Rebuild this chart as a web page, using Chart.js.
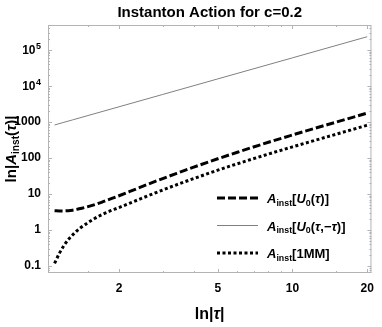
<!DOCTYPE html>
<html>
<head>
<meta charset="utf-8">
<script src="https://cdn.jsdelivr.net/npm/chart.js@4.4.1/dist/chart.umd.min.js"></script>
<style>
html, body { margin: 0; padding: 0; background: #fff; }
</style>
</head>
<body>
<canvas id="chart" width="382" height="327"></canvas>
<script>
// values (log-log plot)
const tau = [1.1, 1.15, 1.2, 1.25, 1.3, 1.35, 1.4, 1.5, 1.6, 1.7, 1.8, 2, 2.2, 2.4, 2.6, 3, 3.5, 4, 5, 6, 8, 10, 12, 15, 20];
const instU0 = [3.44, 3.39, 3.39, 3.44, 3.55, 3.73, 3.95, 4.44, 5.07, 5.86, 6.8, 8.93, 11.56, 14.7, 18.3, 26.8, 39.7, 55.5, 94.8, 144, 272, 434, 631, 986, 1754];
const instOneMM = [0.119, 0.224, 0.37, 0.543, 0.724, 0.933, 1.15, 1.6, 2.11, 2.63, 3.16, 4.2, 5.48, 7.0, 8.73, 12.85, 19.2, 26.8, 45.8, 69, 128, 203, 292, 456, 811];
const tauPair = [1.1, 1.2, 1.3, 1.5, 2, 3, 5, 10, 20];
const instU0Pair = [822, 975, 1138, 1503, 2630, 5780, 15630, 60100, 231700];

const xMajor = [2, 5, 10, 20];
const xMinor = [1.5, 3, 4, 6, 7, 8, 9, 15];
const yMajor = [0.1, 1, 10, 100, 1000, 1e4, 1e5];
const yLabels = ['0.1', '1', '10', '100', '1000', '10^4', '10^5'];

const FONT = "'Liberation Sans Narrow', 'Liberation Sans', Arial, sans-serif";

function toPoints(xs, ys) {
    return xs.map((x, i) => ({ x: x, y: ys[i] }));
}

// text with italic / subscript pieces
function richWidth(ctx, parts, size) {
    let w = 0;
    parts.forEach(([t, s]) => {
        const fs = s === 'sub' ? size * 0.68 : size;
        ctx.font = (s === 'i' ? 'italic ' : '') + 'bold ' + fs + 'px ' + FONT;
        w += ctx.measureText(t).width;
    });
    return w;
}

function drawRich(ctx, x, y, parts, size) {
    let cx = x;
    parts.forEach(([t, s]) => {
        const sub = s === 'sub';
        const fs = sub ? size * 0.68 : size;
        ctx.font = (s === 'i' ? 'italic ' : '') + 'bold ' + fs + 'px ' + FONT;
        ctx.fillText(t, cx, sub ? y + size * 0.22 : y);
        cx += ctx.measureText(t).width;
    });
}

const legendRows = [
    [['A', 'i'], ['inst', 'sub'], ['[', ''], ['U', 'i'], ['0', 'sub'], ['(', ''], ['\u03C4', 'i'], [')]', '']],
    [['A', 'i'], ['inst', 'sub'], ['[', ''], ['U', 'i'], ['0', 'sub'], ['(', ''], ['\u03C4', 'i'], [',\u2212', ''], ['\u03C4', 'i'], [')]', '']],
    [['A', 'i'], ['inst', 'sub'], ['[1MM]', '']]
];
const yTitle = [['ln|', ''], ['A', 'i'], ['inst', 'sub'], ['(', ''], ['\u03C4', 'i'], [')|', '']];
const xTitle = [['ln|', ''], ['\u03C4', 'i'], ['|', '']];

const decor = {
    id: 'decor',
    beforeDatasetsDraw(chart) {
        const { ctx, chartArea: a, scales: { x, y } } = chart;
        ctx.save();
        ctx.strokeStyle = '#b4b4b4';
        ctx.lineWidth = 1;
        ctx.strokeRect(a.left + 0.5, a.top + 0.5, a.right - a.left - 1, a.bottom - a.top - 1);

        ctx.beginPath();
        const yTick = (v, len) => {
            const py = Math.round(y.getPixelForValue(v)) + 0.5;
            if (py < a.top || py > a.bottom) return;
            ctx.moveTo(a.left, py); ctx.lineTo(a.left + len, py);
            ctx.moveTo(a.right, py); ctx.lineTo(a.right - len, py);
        };
        const xTick = (v, len) => {
            const px = Math.round(x.getPixelForValue(v)) + 0.5;
            if (px < a.left || px > a.right) return;
            ctx.moveTo(px, a.bottom); ctx.lineTo(px, a.bottom - len);
            ctx.moveTo(px, a.top); ctx.lineTo(px, a.top + len);
        };
        for (let k = -2; k <= 5; k++) {
            yTick(Math.pow(10, k), 4);
            for (let m = 2; m <= 9; m++) yTick(m * Math.pow(10, k), 2);
        }
        xMajor.forEach(v => xTick(v, 4));
        xMinor.forEach(v => xTick(v, 2));
        ctx.stroke();
        ctx.restore();
    },
    afterDraw(chart) {
        const { ctx, chartArea: a, scales: { y } } = chart;
        ctx.save();
        ctx.fillStyle = '#000';
        ctx.textBaseline = 'alphabetic';
        ctx.textAlign = 'left';

        // power-of-ten tick labels with a real superscript
        yLabels.forEach((lab, i) => {
            if (lab.indexOf('^') < 0) return;
            const [base, exp] = lab.split('^');
            const py = y.getPixelForValue(yMajor[i]);
            ctx.font = 'bold 9px ' + FONT;
            const ew = ctx.measureText(exp).width;
            ctx.fillText(exp, a.left - 7 - ew, py - 1);
            ctx.font = 'bold 12px ' + FONT;
            const bw = ctx.measureText(base).width;
            ctx.fillText(base, a.left - 7 - ew - bw - 0.5, py + 4.5);
        });

        // title
        ctx.font = 'bold 15px ' + FONT;
        const title = 'Instanton Action for c=0.2';
        const tw = ctx.measureText(title).width;
        ctx.fillText(title, (a.left + a.right) / 2 - tw / 2, 17);

        // axis titles
        const xw = richWidth(ctx, xTitle, 16);
        drawRich(ctx, (a.left + a.right) / 2 - xw / 2, 319, xTitle, 16);

        ctx.save();
        ctx.translate(16, (a.top + a.bottom) / 2);
        ctx.rotate(-Math.PI / 2);
        const yw = richWidth(ctx, yTitle, 15);
        drawRich(ctx, -yw / 2, 0, yTitle, 15);
        ctx.restore();

        // legend
        const rowsY = [198, 225.5, 253];
        const order = [1, 0, 2];
        order.forEach((di, r) => {
            const ds = chart.data.datasets[di];
            const ly = rowsY[r];
            ctx.save();
            ctx.strokeStyle = ds.borderColor;
            ctx.lineWidth = ds.borderWidth;
            ctx.setLineDash(ds.borderDash || []);
            ctx.beginPath();
            ctx.moveTo(a.left + 169, ly);
            ctx.lineTo(a.left + 210, ly);
            ctx.stroke();
            ctx.restore();
            drawRich(ctx, a.left + 219, ly + 5, legendRows[r], 13);
        });
        ctx.restore();
    }
};

new Chart(document.getElementById('chart'), {
    type: 'line',
    data: {
        datasets: [
            {
                label: 'U0(tau,-tau)',
                data: toPoints(tauPair, instU0Pair),
                borderColor: '#808080',
                borderWidth: 1,
                pointRadius: 0
            },
            {
                label: 'U0(tau)',
                data: toPoints(tau, instU0),
                borderColor: '#000',
                borderWidth: 3,
                borderDash: [8, 3],
                borderCapStyle: 'butt',
                cubicInterpolationMode: 'monotone',
                pointRadius: 0
            },
            {
                label: '1MM',
                data: toPoints(tau, instOneMM),
                borderColor: '#000',
                borderWidth: 3,
                borderDash: [3, 2.5],
                borderCapStyle: 'butt',
                cubicInterpolationMode: 'monotone',
                pointRadius: 0
            }
        ]
    },
    options: {
        responsive: false,
        animation: false,
        layout: { padding: { top: 25, right: 9, left: 0, bottom: 0 } },
        plugins: {
            legend: { display: false },
            tooltip: { enabled: false }
        },
        scales: {
            x: {
                type: 'logarithmic',
                min: 1.035,
                max: 20.8,
                grid: { display: false, drawTicks: false },
                border: { display: false },
                afterBuildTicks: s => { s.ticks = xMajor.map(v => ({ value: v })); },
                afterFit: s => { s.height = 54; },
                ticks: {
                    padding: 8,
                    color: '#000',
                    autoSkip: false,
                    maxRotation: 0,
                    font: { family: FONT, size: 12, weight: 'bold' },
                    callback: v => String(v)
                }
            },
            y: {
                type: 'logarithmic',
                min: 0.064,
                max: 4.9e5,
                grid: { display: false, drawTicks: false },
                border: { display: false },
                afterBuildTicks: s => { s.ticks = yMajor.map(v => ({ value: v })); },
                afterFit: s => { s.width = 48; },
                ticks: {
                    padding: 7,
                    color: '#000',
                    autoSkip: false,
                    font: { family: FONT, size: 12, weight: 'bold' },
                    // 10^n labels are drawn by the decor plugin
                    callback: v => {
                        const lab = yLabels[yMajor.indexOf(v)];
                        return lab.indexOf('^') < 0 ? lab : '';
                    }
                }
            }
        }
    },
    plugins: [decor]
});
</script>
</body>
</html>
